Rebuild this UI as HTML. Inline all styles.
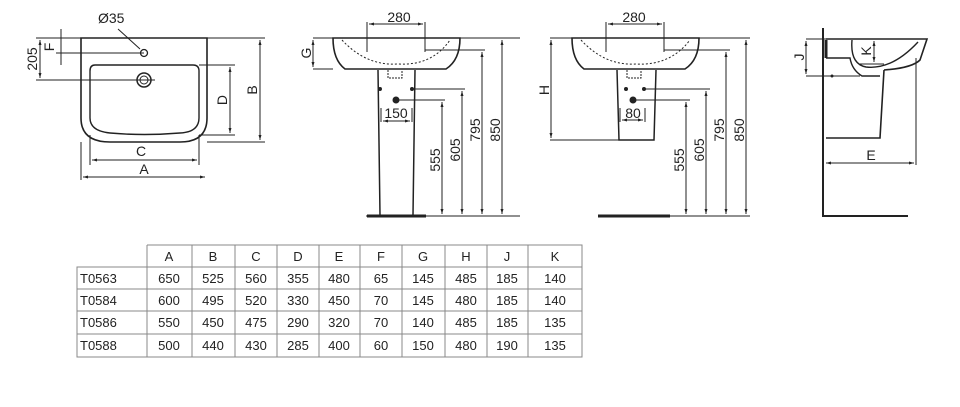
<!DOCTYPE html>
<html><head><meta charset="utf-8"><style>
body{margin:0;background:#fff;width:960px;height:407px;overflow:hidden}
svg{display:block}
text{font-family:"Liberation Sans",sans-serif;fill:#222}
</style></head><body>
<svg width="960" height="407" viewBox="0 0 960 407" xmlns="http://www.w3.org/2000/svg">
<defs>
<marker id="a" viewBox="0 0 10 10" refX="10" refY="5" markerWidth="5" markerHeight="5" orient="auto-start-reverse"><path d="M0,2L10,5L0,8z" fill="#222"/></marker>
</defs>
<g stroke="#222" fill="none" stroke-width="1">
<path d="M81,38H207V118Q207,142 180,142H110Q81,142 81,118Z" stroke-width="1.6"/>
<path d="M95,65H193Q199,65 199,71V118Q199,132 180,133Q144,136 110,133Q90,131 90,118V71Q90,65 95,65Z" stroke-width="1.4"/>
<circle cx="144" cy="80" r="7" stroke-width="1.5"/><circle cx="144" cy="80" r="4"/>
<circle cx="144" cy="53" r="3.5" stroke-width="1.3"/>
<path d="M118,29L140,49"/>
<path d="M36,38H81M207,38H265M56,53H144M36,80H155M199,65H235M199,135H235M207,142H265"/>
<path d="M61,29V65"/>
<path d="M40,40V78" marker-start="url(#a)" marker-end="url(#a)"/>
<path d="M260,40V140" marker-start="url(#a)" marker-end="url(#a)"/>
<path d="M230,67V133" marker-start="url(#a)" marker-end="url(#a)"/>
<path d="M90,135V165M199,135V165M81,142V180"/>
<path d="M92,160H197" marker-start="url(#a)" marker-end="url(#a)"/>
<path d="M83,177H205" marker-start="url(#a)" marker-end="url(#a)"/>
<path d="M333,38H460Q460,60 446,69H345Q333,60 333,38Z" stroke-width="1.6"/>
<path d="M342,40Q366,66 398,64Q432,66 450,40" stroke-dasharray="2,2"/>
<path d="M378,70L380,215M415,70L413,215" stroke-width="1.5"/>
<path d="M367,216H426" stroke-width="3"/>
<path d="M388,70v8h14v-8" stroke-dasharray="2,1"/>
<path d="M367,22V52M425,22V52M313,38H520M313,69H333M425,50H485M412,89H465M396,100H445M366,216H520"/>
<path d="M369,24H423" marker-start="url(#a)" marker-end="url(#a)"/>
<path d="M313,40V67" marker-start="url(#a)" marker-end="url(#a)"/>
<path d="M381,108V122M412,108V122"/>
<path d="M383,121H410" marker-start="url(#a)" marker-end="url(#a)"/>
<path d="M442,102V214" marker-start="url(#a)" marker-end="url(#a)"/>
<path d="M462,91V214" marker-start="url(#a)" marker-end="url(#a)"/>
<path d="M482,52V214" marker-start="url(#a)" marker-end="url(#a)"/>
<path d="M502,40V214" marker-start="url(#a)" marker-end="url(#a)"/>
<path d="M572,38H699Q699,60 685,69H584Q572,60 572,38Z" stroke-width="1.6"/>
<path d="M581,40Q605,66 636,64Q670,66 690,40" stroke-dasharray="2,2"/>
<path d="M617,70L619,140H654L656,70" stroke-width="1.5"/>
<path d="M598,216H670" stroke-width="3"/>
<path d="M627,70v8h14v-8" stroke-dasharray="2,1"/>
<path d="M606,22V52M664,22V52M550,38H750M550,140H619M664,50H730M645,89H710M633,100H690M670,216H750"/>
<path d="M608,24H662" marker-start="url(#a)" marker-end="url(#a)"/>
<path d="M551,40V138" marker-start="url(#a)" marker-end="url(#a)"/>
<path d="M620,108V122M645,108V122"/>
<path d="M622,120H643" marker-start="url(#a)" marker-end="url(#a)"/>
<path d="M686,102V214" marker-start="url(#a)" marker-end="url(#a)"/>
<path d="M706,91V214" marker-start="url(#a)" marker-end="url(#a)"/>
<path d="M726,52V214" marker-start="url(#a)" marker-end="url(#a)"/>
<path d="M746,40V214" marker-start="url(#a)" marker-end="url(#a)"/>
<path d="M823,28V216H908" stroke-width="2"/>
<path d="M826,39H927L920,60Q912,68 884,70" stroke-width="1.6"/>
<path d="M852,40Q850,64 866,67Q892,70 918,42" stroke-width="1.4"/>
<path d="M826,58H850Q852,70 862,76H880" stroke-width="1.4"/>
<path d="M884,70L880,138H826" stroke-width="1.6"/>
<path d="M826,40V58" stroke-width="3"/>
<path d="M806,39H826M806,76H860M860,64H884M916,58V165"/>
<path d="M806,41V74" marker-start="url(#a)" marker-end="url(#a)"/>
<path d="M874,41V62" marker-start="url(#a)" marker-end="url(#a)"/>
<path d="M826,163H914" marker-start="url(#a)" marker-end="url(#a)"/>
</g>
<g fill="#222">
<circle cx="380" cy="89" r="2"/><circle cx="412" cy="89" r="2"/><circle cx="396" cy="100" r="3.5"/>
<circle cx="626" cy="89" r="2"/><circle cx="644" cy="89" r="2"/><circle cx="633" cy="100" r="3.5"/>
<circle cx="832" cy="76" r="1.5"/>
</g>
<g font-size="14">
<text x="98" y="23">Ø35</text>
<text x="141" y="156" text-anchor="middle">C</text>
<text x="144" y="174" text-anchor="middle">A</text>
<text x="399" y="22" text-anchor="middle">280</text>
<text x="396" y="118" text-anchor="middle">150</text>
<text x="634" y="22" text-anchor="middle">280</text>
<text x="633" y="118" text-anchor="middle">80</text>
<text x="871" y="160" text-anchor="middle">E</text>
<text transform="translate(54,47) rotate(-90)" text-anchor="middle">F</text>
<text transform="translate(37,59) rotate(-90)" text-anchor="middle">205</text>
<text transform="translate(257,90) rotate(-90)" text-anchor="middle">B</text>
<text transform="translate(227,100) rotate(-90)" text-anchor="middle">D</text>
<text transform="translate(311,53) rotate(-90)" text-anchor="middle">G</text>
<text transform="translate(440,160) rotate(-90)" text-anchor="middle">555</text>
<text transform="translate(460,150) rotate(-90)" text-anchor="middle">605</text>
<text transform="translate(480,130) rotate(-90)" text-anchor="middle">795</text>
<text transform="translate(500,130) rotate(-90)" text-anchor="middle">850</text>
<text transform="translate(549,90) rotate(-90)" text-anchor="middle">H</text>
<text transform="translate(684,160) rotate(-90)" text-anchor="middle">555</text>
<text transform="translate(704,150) rotate(-90)" text-anchor="middle">605</text>
<text transform="translate(724,130) rotate(-90)" text-anchor="middle">795</text>
<text transform="translate(744,130) rotate(-90)" text-anchor="middle">850</text>
<text transform="translate(804,57) rotate(-90)" text-anchor="middle">J</text>
<text transform="translate(871,51) rotate(-90)" text-anchor="middle">K</text>
</g>
<g stroke="#888" stroke-width="1" fill="none">
<path d="M147,245H582V357H77V267H582M77,289H582M77,311H582M77,334H582"/>
<path d="M147,245V357M192,245V357M235,245V357M277,245V357M319,245V357M360,245V357M402,245V357M445,245V357M487,245V357M528,245V357"/>
</g>
<g font-size="13" text-anchor="middle">
<text x="169" y="261">A</text><text x="213" y="261">B</text><text x="256" y="261">C</text><text x="298" y="261">D</text><text x="339" y="261">E</text><text x="381" y="261">F</text><text x="423" y="261">G</text><text x="466" y="261">H</text><text x="507" y="261">J</text><text x="555" y="261">K</text>
<text x="169" y="283">650</text><text x="213" y="283">525</text><text x="256" y="283">560</text><text x="298" y="283">355</text><text x="339" y="283">480</text><text x="381" y="283">65</text><text x="423" y="283">145</text><text x="466" y="283">485</text><text x="507" y="283">185</text><text x="555" y="283">140</text>
<text x="169" y="305">600</text><text x="213" y="305">495</text><text x="256" y="305">520</text><text x="298" y="305">330</text><text x="339" y="305">450</text><text x="381" y="305">70</text><text x="423" y="305">145</text><text x="466" y="305">480</text><text x="507" y="305">185</text><text x="555" y="305">140</text>
<text x="169" y="327">550</text><text x="213" y="327">450</text><text x="256" y="327">475</text><text x="298" y="327">290</text><text x="339" y="327">320</text><text x="381" y="327">70</text><text x="423" y="327">140</text><text x="466" y="327">485</text><text x="507" y="327">185</text><text x="555" y="327">135</text>
<text x="169" y="350">500</text><text x="213" y="350">440</text><text x="256" y="350">430</text><text x="298" y="350">285</text><text x="339" y="350">400</text><text x="381" y="350">60</text><text x="423" y="350">150</text><text x="466" y="350">480</text><text x="507" y="350">190</text><text x="555" y="350">135</text>
</g>
<g font-size="13">
<text x="80" y="283">T0563</text><text x="80" y="305">T0584</text><text x="80" y="327">T0586</text><text x="80" y="350">T0588</text>
</g>
</svg>
</body></html>
